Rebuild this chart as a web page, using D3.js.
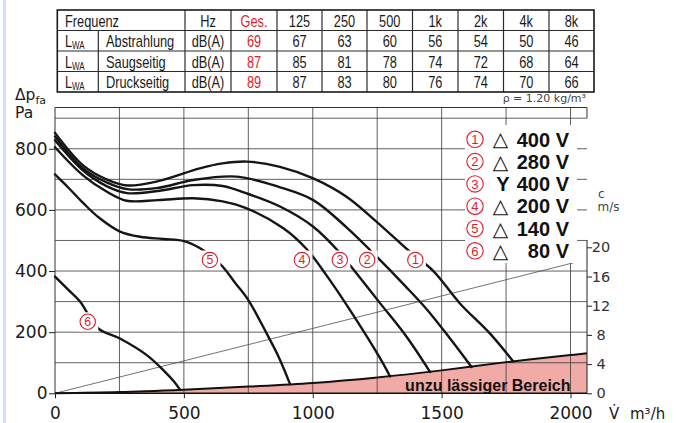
<!DOCTYPE html>
<html>
<head>
<meta charset="utf-8">
<script src="https://cdn.jsdelivr.net/npm/d3@7"></script>
<style>
  html, body { margin: 0; padding: 0; background: #fff; }
  svg { display: block; }
</style>
</head>
<body>
<svg id="chart" width="681" height="423"></svg>
<script>
// ---- Sound power table -------------------------------------------------
const freqHeaders = ["Hz", "Ges.", "125", "250", "500", "1k", "2k", "4k", "8k"];
const soundRows   = ["Abstrahlung", "Saugseitig", "Druckseitig"];
const soundUnit   = "dB(A)";
const soundTotal  = [69, 87, 89];
const soundBands  = [
  [67, 63, 60, 56, 54, 50, 46],
  [85, 81, 78, 74, 72, 68, 64],
  [87, 83, 80, 76, 74, 70, 66]
];

// ---- Fan curves: static pressure Δp_fa [Pa] over volume flow V̇ [m³/h] ----
const curve1 = [[0,852],[110,745],[200,700],[280,680],[400,694],[562,736],[650,752],[744,758],[873,741],[1002,703],[1131,643],[1248,561],[1377,463],[1468,400],[1571,294],[1687,196],[1778,104]];
const curve2 = [[0,840],[110,735],[200,690],[280,668],[400,672],[536,698],[705,709],[873,674],[1002,632],[1131,543],[1248,447],[1360,350],[1442,275],[1532,180],[1616,86]];
const curve3 = [[0,828],[110,728],[200,678],[280,655],[400,662],[536,681],[650,678],[750,652],[873,611],[1002,545],[1105,460],[1151,412],[1261,295],[1364,185],[1455,70]];
const curve4 = [[0,805],[110,712],[200,660],[278,630],[400,632],[536,638],[650,628],[744,605],[886,540],[976,472],[1050,390],[1144,273],[1261,115],[1300,55]];
const curve5 = [[0,716],[55,670],[110,622],[170,575],[250,530],[330,512],[420,505],[500,498],[560,476],[600,452],[650,415],[700,360],[750,305],[821,196],[870,115],[912,30]];
const curve6 = [[0,382],[50,340],[97,300],[168,212],[250,180],[356,125],[420,76],[460,40],[485,12]];
const fanCurves = [curve1, curve2, curve3, curve4, curve5, curve6];

// Curve number labels: [V̇, Δp] where each number sits
const curveLabelAt = [[1398,436],[1211,436],[1105,436],[958,436],[601,436],[127,234]];
const curveNumbers = ["1", "2", "3", "4", "5", "6"];

// Legend: connection and voltage per curve
const legendConn = ["△", "△", "Y", "△", "△", "△"];
const legendVolt = ["400 V", "280 V", "400 V", "200 V", "140 V", "80 V"];

// Limit of the admissible range (system curve) [V̇, Δp]
const limitCurve = [[0,0],[250,4],[500,12],[750,22],[1000,34],[1250,52],[1500,75],[1750,102],[2000,125],[2064,131]];
// Outlet velocity line [V̇, c in m/s]
const velocityLine = [[0,0],[2025,18]];

// Axis ticks
const xTicks  = [0, 500, 1000, 1500, 2000];
const yTicks  = [0, 200, 400, 600, 800];
const cTicks  = [0, 4, 8, 12, 16, 20];

// ---- Layout ------------------------------------------------------------
const svg = d3.select("#chart");
const RED = "#dc1e2d";
const AXFONT = "'DejaVu Sans', sans-serif";
const SANS = "'Liberation Sans', Arial, sans-serif";

const x  = d3.scaleLinear().domain([0, 2064]).range([55, 587]);
const y  = d3.scaleLinear().domain([0, 935]).range([393.3, 107.5]);
const yc = d3.scaleLinear().domain([0, 20]).range([393.3, 247.3]);

// circled red number (ring + digit)
function circledNumber(g, cx, cy, r, digit) {
  g.append("circle").attr("cx", cx).attr("cy", cy).attr("r", r)
    .attr("fill", "none").attr("stroke", RED).attr("stroke-width", 1.1);
  g.append("text").attr("x", cx).attr("y", cy).attr("dy", "0.36em").attr("text-anchor", "middle")
    .attr("font-family", SANS).attr("font-size", r * 1.6).attr("fill", RED).text(digit);
}

// page edge stripe
svg.append("rect").attr("x", 3).attr("y", 0).attr("width", 3).attr("height", 423).attr("fill", "#cfe2f3");

// ---- Table -------------------------------------------------------------
const colEdges = [57.3, 98.3, 185, 231, 277, 322, 367, 412.5, 458, 503.5, 549, 594];
const rowEdges = [10, 30.5, 51, 71.5, 92];
const tbl = svg.append("g");
const colMid = i => (colEdges[i] + colEdges[i + 1]) / 2;

// inner lines
rowEdges.slice(1, -1).forEach(ry => {
  tbl.append("line").attr("x1", colEdges[0]).attr("x2", colEdges[colEdges.length - 1])
    .attr("y1", ry).attr("y2", ry).attr("stroke", "#2a2a2a").attr("stroke-width", 1.2);
});
colEdges.slice(1, -1).forEach((cx, i) => {
  const top = i === 0 ? rowEdges[1] : rowEdges[0];
  tbl.append("line").attr("x1", cx).attr("x2", cx)
    .attr("y1", top).attr("y2", rowEdges[rowEdges.length - 1])
    .attr("stroke", "#2a2a2a").attr("stroke-width", 1.2);
});
tbl.append("rect").attr("x", colEdges[0]).attr("y", rowEdges[0])
  .attr("width", colEdges[colEdges.length - 1] - colEdges[0])
  .attr("height", rowEdges[rowEdges.length - 1] - rowEdges[0])
  .attr("fill", "none").attr("stroke", "#1a1a1a").attr("stroke-width", 1.6);

// condensed table lettering: regular sans squeezed horizontally
const SQUEEZE = 0.8;
const tText = (tx, ty, s, anchor, color) => tbl.append("text")
  .attr("transform", `translate(${tx},${ty}) scale(${SQUEEZE},1)`)
  .attr("text-anchor", anchor || "middle")
  .attr("font-family", SANS).attr("font-size", 16).attr("fill", color || "#1a1a1a").text(s);

tText(65, rowEdges[0] + 16.5, "Frequenz", "start");
freqHeaders.forEach((h, i) => tText(colMid(i + 2), rowEdges[0] + 16.5, h, "middle", i === 1 ? RED : null));

soundRows.forEach((name, r) => {
  const by = rowEdges[r + 1] + 16.5;
  const l = tbl.append("text").attr("transform", `translate(65,${by}) scale(${SQUEEZE},1)`)
    .attr("font-family", SANS).attr("font-size", 16).attr("fill", "#1a1a1a");
  l.append("tspan").text("L");
  l.append("tspan").attr("font-size", 10).attr("dy", 2).text("WA");
  tText(106, by, name, "start");
  tText(colMid(2), by, soundUnit);
  tText(colMid(3), by, soundTotal[r], "middle", RED);
  soundBands[r].forEach((v, k) => tText(colMid(4 + k), by, v));
});

// density note
svg.append("text").attr("x", 586).attr("y", 102).attr("text-anchor", "end")
  .attr("font-family", AXFONT).attr("font-size", 11).attr("fill", "#444")
  .text("ρ = 1.20 kg/m³");

// ---- Plot --------------------------------------------------------------
const plot = svg.append("g");

// pink inadmissible area
plot.append("path").datum(limitCurve)
  .attr("d", d3.area().x(d => x(d[0])).y0(y(0)).y1(d => y(d[1])).curve(d3.curveCatmullRom))
  .attr("fill", "#f2aaa6");

// grid
const grid = plot.append("g").attr("stroke", "#444").attr("stroke-width", 0.85);
d3.range(250, 2001, 250).forEach(v => grid.append("line")
  .attr("x1", x(v)).attr("x2", x(v)).attr("y1", y(0)).attr("y2", y(935)));
d3.range(100, 901, 100).forEach(p => grid.append("line")
  .attr("x1", x(0)).attr("x2", x(2064)).attr("y1", y(p)).attr("y2", y(p)));

// frame: left, top, top-right stub
plot.append("line").attr("x1", x(0)).attr("x2", x(0)).attr("y1", y(0)).attr("y2", y(935))
  .attr("stroke", "#333").attr("stroke-width", 1);
plot.append("line").attr("x1", x(0)).attr("x2", x(2064)).attr("y1", y(935)).attr("y2", y(935))
  .attr("stroke", "#333").attr("stroke-width", 1);
plot.append("line").attr("x1", x(2064)).attr("x2", x(2064)).attr("y1", y(935)).attr("y2", y(900))
  .attr("stroke", "#333").attr("stroke-width", 1);

// velocity line
plot.append("path").datum(velocityLine)
  .attr("d", d3.line().x(d => x(d[0])).y(d => yc(d[1])))
  .attr("stroke", "#444").attr("stroke-width", 0.75).attr("fill", "none");

// fan curves
const fanLine = d3.line().x(d => x(d[0])).y(d => y(d[1])).curve(d3.curveCatmullRom);
plot.selectAll("path.fan").data(fanCurves).join("path")
  .attr("class", "fan").attr("d", fanLine)
  .attr("fill", "none").attr("stroke", "#151515").attr("stroke-width", 2.4)
  .attr("stroke-linecap", "round");

// limit curve
plot.append("path").datum(limitCurve)
  .attr("d", d3.line().x(d => x(d[0])).y(d => y(d[1])).curve(d3.curveCatmullRom))
  .attr("fill", "none").attr("stroke", "#111").attr("stroke-width", 2);

plot.append("text").attr("x", x(2000)).attr("y", 390.5).attr("text-anchor", "end")
  .attr("font-family", SANS).attr("font-weight", "bold")
  .attr("font-size", 16).attr("fill", "#111").text("unzu lässiger Bereich");

// curve number labels
curveLabelAt.forEach((d, i) => {
  const cx = x(d[0]), cy = y(d[1]);
  plot.append("rect").attr("x", cx - 10.5).attr("y", cy - 9.5).attr("width", 21).attr("height", 19).attr("fill", "#fff");
  circledNumber(plot, cx, cy, 7.7, curveNumbers[i]);
});

// legend
const lg = svg.append("g");
lg.append("rect").attr("x", 465).attr("y", 125).attr("width", 112).attr("height", 138).attr("fill", "#fff");
legendVolt.forEach((v, i) => {
  const cy = 139.3 + i * 22.3;
  circledNumber(lg, 475, cy, 8.2, curveNumbers[i]);
  const conn = legendConn[i];
  lg.append("text").attr("x", conn === "Y" ? 503 : 500.5).attr("y", cy + 7).attr("text-anchor", "middle")
    .attr("font-family", conn === "Y" ? SANS : AXFONT)
    .attr("font-weight", conn === "Y" ? "bold" : "normal")
    .attr("font-size", 20).attr("fill", "#111").text(conn);
  lg.append("text").attr("x", 569).attr("y", cy + 7.2).attr("text-anchor", "end")
    .attr("font-family", SANS).attr("font-weight", "bold")
    .attr("font-size", 20).attr("fill", "#111").text(v);
});

// ---- Axes --------------------------------------------------------------
const xAxis = svg.append("g").attr("transform", `translate(0,${y(0)})`)
  .call(d3.axisBottom(x).tickValues(xTicks).tickSize(5).tickPadding(8.5).tickFormat(d3.format("d")));
const yAxis = svg.append("g").attr("transform", `translate(${x(0)},0)`)
  .call(d3.axisLeft(y).tickValues(yTicks).tickSize(6).tickPadding(1.5).tickFormat(d3.format("d")));
const cAxis = svg.append("g").attr("transform", `translate(${x(2064)},0)`)
  .call(d3.axisRight(yc).tickValues(cTicks).tickSize(5).tickPadding(4));

[xAxis, yAxis, cAxis].forEach(a => {
  a.select(".domain").remove();
  a.selectAll(".tick line").attr("stroke", "#222").attr("stroke-width", 1);
  a.selectAll(".tick text").attr("font-family", AXFONT).attr("fill", "#1a1a1a");
});
xAxis.selectAll(".tick text").attr("font-size", 17);
yAxis.selectAll(".tick text").attr("font-size", 17);
cAxis.selectAll(".tick text").attr("font-size", 14.5).attr("fill", "#333")
  .attr("text-anchor", "middle").attr("x", 14);

// axis lines
svg.append("line").attr("x1", x(0)).attr("x2", x(2064)).attr("y1", y(0)).attr("y2", y(0))
  .attr("stroke", "#111").attr("stroke-width", 1.6);
svg.append("line").attr("x1", x(2064)).attr("x2", x(2064)).attr("y1", yc(0)).attr("y2", yc(21))
  .attr("stroke", "#222").attr("stroke-width", 1);

// axis titles
const yt = svg.append("text").attr("x", 15).attr("y", 100)
  .attr("font-family", AXFONT).attr("font-size", 15.5).attr("fill", "#1a1a1a");
yt.append("tspan").text("Δp");
yt.append("tspan").attr("font-size", 11).attr("dy", 3.5).text("fa");
svg.append("text").attr("x", 15).attr("y", 118)
  .attr("font-family", AXFONT).attr("font-size", 15.5).attr("fill", "#1a1a1a").text("Pa");

svg.append("text").attr("x", 609).attr("y", 418.5)
  .attr("font-family", AXFONT).attr("font-size", 15).attr("fill", "#1a1a1a").text("V̇");
svg.append("text").attr("x", 630).attr("y", 418.5)
  .attr("font-family", AXFONT).attr("font-size", 15).attr("fill", "#1a1a1a").text("m³/h");

svg.append("text").attr("x", 598).attr("y", 198)
  .attr("font-family", AXFONT).attr("font-size", 12).attr("fill", "#444").text("c");
svg.append("text").attr("x", 597.5).attr("y", 211)
  .attr("font-family", AXFONT).attr("font-size", 12).attr("fill", "#444").text("m/s");
</script>
</body>
</html>
